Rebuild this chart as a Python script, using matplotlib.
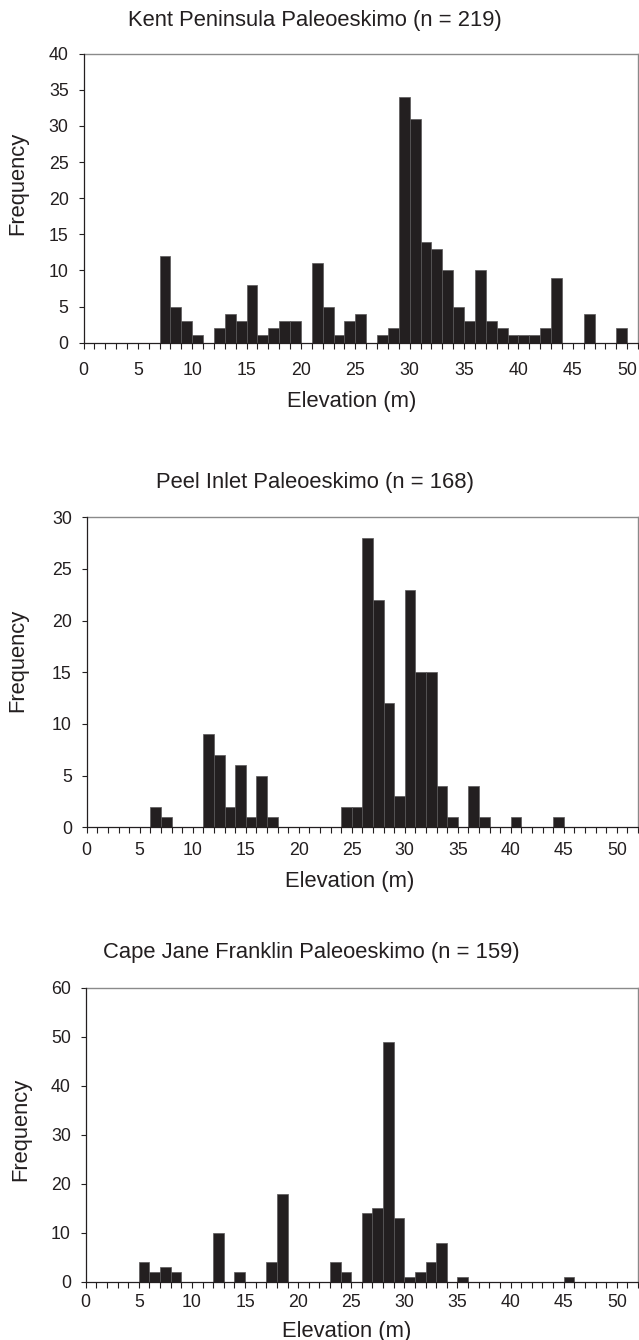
import matplotlib
matplotlib.use("Agg")
import matplotlib.pyplot as plt
from matplotlib.ticker import MultipleLocator

plt.rcParams['font.family'] = ['Liberation Sans', 'DejaVu Sans']

# ---- data (bin start elevation in m, frequency) ----
kent_bins = [7, 8, 9, 10, 12, 13, 14, 15, 16, 17, 18, 19, 21, 22, 23, 24, 25,
             27, 28, 29, 30, 31, 32, 33, 34, 35, 36, 37, 38, 39, 40, 41, 42, 43, 46, 49]
kent_counts = [12, 5, 3, 1, 2, 4, 3, 8, 1, 2, 3, 3, 11, 5, 1, 3, 4,
               1, 2, 34, 31, 14, 13, 10, 5, 3, 10, 3, 2, 1, 1, 1, 2, 9, 4, 2]

peel_bins = [6, 7, 11, 12, 13, 14, 15, 16, 17, 24, 25, 26, 27, 28, 29, 30, 31, 32, 33, 34,
             36, 37, 40, 44]
peel_counts = [2, 1, 9, 7, 2, 6, 1, 5, 1, 2, 2, 28, 22, 12, 3, 23, 15, 15, 4, 1,
               4, 1, 1, 1]

cape_bins = [5, 6, 7, 8, 12, 14, 17, 18, 23, 24, 26, 27, 28, 29, 30, 31, 32, 33, 35, 45]
cape_counts = [4, 2, 3, 2, 10, 2, 4, 18, 4, 2, 14, 15, 49, 13, 1, 2, 4, 8, 1, 1]

titles = ["Kent Peninsula Paleoeskimo (n = 219)",
          "Peel Inlet Paleoeskimo (n = 168)",
          "Cape Jane Franklin Paleoeskimo (n = 159)"]
xlabel = "Elevation (m)"
ylabel = "Frequency"
xticks = [0, 5, 10, 15, 20, 25, 30, 35, 40, 45, 50]

W, H = 639, 1340
fig = plt.figure(figsize=(W / 100, H / 100), dpi=100)
TXT = '#231f20'
BAR = '#231f20'

# axes boxes in pixels: left, right, top, bottom
boxes = [(83.5, 638, 53.7, 342.7), (86.7, 638, 517.3, 827.2), (85.7, 638, 987.7, 1282)]
xmaxs = [51, 52, 52]
ymaxs = [40, 30, 60]
ysteps = [5, 5, 10]
xpads = [9.6, 6.4, 4.2]
title_pos = [(315, 26), (315, 488), (311, 958)]      # baseline
xlab_pos = [(352, 407), (350, 887.5), (347, 1337.5)]  # baseline
ylab_pos = [(18, 183), (18, 660), (21, 1129)]
data = [(kent_bins, kent_counts), (peel_bins, peel_counts), (cape_bins, cape_counts)]

for i in range(3):
    l, r, t, b = boxes[i]
    ax = fig.add_axes([l / W, 1 - b / H, (r - l) / W, (b - t) / H])
    bins, counts = data[i]
    ax.bar(bins, counts, width=1.0, align='edge', color=BAR,
           edgecolor='#5a5859', linewidth=0.5, zorder=3)
    ax.set_xlim(0, xmaxs[i])
    ax.set_ylim(0, ymaxs[i])
    ax.set_xticks(xticks)
    ax.xaxis.set_minor_locator(MultipleLocator(1))
    ax.yaxis.set_major_locator(MultipleLocator(ysteps[i]))
    ax.tick_params(axis='both', which='both', direction='out', colors=TXT,
                   labelsize=12.8, width=0.8)
    ax.tick_params(axis='x', which='both', length=4.1, pad=xpads[i])
    ax.tick_params(axis='y', which='major', length=3.7, pad=7.0)
    for s in ['left', 'bottom']:
        ax.spines[s].set_color(TXT)
        ax.spines[s].set_linewidth(0.9)
        ax.spines[s].set_zorder(4)
    for s in ['top', 'right']:
        ax.spines[s].set_color('#8a8a8a')
        ax.spines[s].set_linewidth(1.0)
    tx, ty = title_pos[i]
    fig.text(tx / W, 1 - ty / H, titles[i], ha='center', va='baseline',
             fontsize=15.8, color=TXT)
    xx, xy = xlab_pos[i]
    fig.text(xx / W, 1 - xy / H, xlabel, ha='center', va='baseline',
             fontsize=15.8, color=TXT)
    yx, yy = ylab_pos[i]
    fig.text(yx / W, 1 - yy / H, ylabel, ha='center', va='center',
             rotation=90, fontsize=15.8, color=TXT)

fig.savefig("out.png", dpi=100, facecolor='white')
